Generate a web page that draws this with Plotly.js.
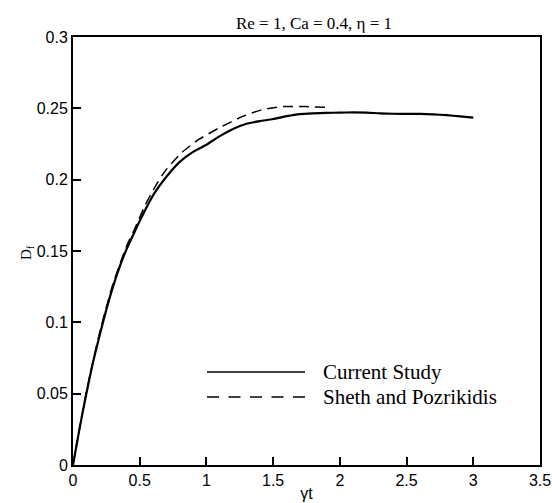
<!DOCTYPE html>
<html><head><meta charset="utf-8">
<script src="https://cdn.plot.ly/plotly-3.0.1.min.js"></script>
<style>body{margin:0;background:#fff}#c{width:552px;height:503px}</style>
</head><body><div id="c"></div>
<script>
const currentX = [0,0.05,0.1,0.15,0.2,0.25,0.3,0.35,0.4,0.45,0.5,0.6,0.7,0.8,0.9,1.0,1.1,1.2,1.3,1.4,1.5,1.6,1.7,1.8,1.9,2.0,2.1,2.2,2.3,2.4,2.5,2.6,2.7,2.8,2.9,3.0];
const currentY = [0,0.026,0.05,0.072,0.091,0.109,0.125,0.139,0.151,0.161,0.171,0.189,0.202,0.2125,0.2195,0.2245,0.2305,0.2355,0.2392,0.241,0.2425,0.2445,0.246,0.2465,0.2468,0.247,0.2471,0.247,0.2465,0.2462,0.2461,0.2461,0.2458,0.2452,0.2444,0.2435];
const shethX = [0,0.1,0.2,0.3,0.4,0.465,0.54,0.615,0.69,0.815,0.94,1.09,1.277,1.415,1.565,1.74,1.89];
const shethY = [0,0.051,0.093,0.127,0.153,0.166,0.182,0.195,0.206,0.219,0.228,0.236,0.2445,0.249,0.2512,0.2512,0.2507];
const legendNames = ["Current Study","Sheth and Pozrikidis"];
const titleText = "Re = 1, Ca = 0.4, η = 1";

const data = [
  {x: currentX, y: currentY, mode:'lines', line:{color:'#000', width:2.2, shape:'spline', smoothing:0.6}, name: legendNames[0], showlegend:false},
  {x: shethX, y: shethY, mode:'lines', line:{color:'#000', width:1.5, dash:'10px,6px', shape:'spline', smoothing:0.6}, name: legendNames[1], showlegend:false}
];
const layout = {
  width:552, height:503,
  margin:{l:73, r:12, t:37, b:38},
  paper_bgcolor:'#fff', plot_bgcolor:'#fff',
  title:{text:titleText, font:{family:'Liberation Serif', size:17, color:'#000'}, x:(314)/552, xanchor:'center', xref:'container', y:1-23/503, yref:'container', yanchor:'middle'},
  xaxis:{range:[0,3.5], dtick:0.5, ticks:'inside', ticklen:8, tickwidth:2, tickcolor:'#000',
    showline:true, linewidth:2, linecolor:'#000', mirror:true, showgrid:false, zeroline:false,
    tickfont:{family:'Liberation Sans', size:16, color:'#000'},
    title:{text:'γt', font:{family:'Liberation Sans', size:16, color:'#000'}, standoff:0}},
  yaxis:{range:[0,0.3], dtick:0.05, ticks:'inside', ticklen:8, tickwidth:2, tickcolor:'#000',
    showline:true, linewidth:2, linecolor:'#000', mirror:true, showgrid:false, zeroline:false,
    tickfont:{family:'Liberation Sans', size:16, color:'#000'}, tickformat:'~g'},
  shapes:[
    {type:'line', xref:'paper', yref:'paper', x0:(207-73)/467, x1:(305-73)/467, y0:(465-372)/428, y1:(465-372)/428, line:{color:'#000', width:1.5}},
    {type:'line', xref:'paper', yref:'paper', x0:(207-73)/467, x1:(305-73)/467, y0:(465-397)/428, y1:(465-397)/428, line:{color:'#000', width:1.5, dash:'12px,9.5px'}}
  ],
  annotations:[
    {text:legendNames[0], xref:'paper', yref:'paper', x:(321-73)/467, y:(465-372)/428, xanchor:'left', yanchor:'middle', showarrow:false, font:{family:'Liberation Serif', size:21, color:'#000'}},
    {text:legendNames[1], xref:'paper', yref:'paper', x:(321-73)/467, y:(465-397)/428, xanchor:'left', yanchor:'middle', showarrow:false, font:{family:'Liberation Serif', size:21, color:'#000'}},
    {text:'D<sub>f</sub>', xref:'paper', yref:'paper', x:(27-73)/467, y:(465-253)/428, xanchor:'center', yanchor:'middle', textangle:-90, showarrow:false, font:{family:'Liberation Serif', size:15, color:'#000'}}
  ]
};
Plotly.newPlot('c', data, layout, {displayModeBar:false, staticPlot:true});
</script></body></html>
